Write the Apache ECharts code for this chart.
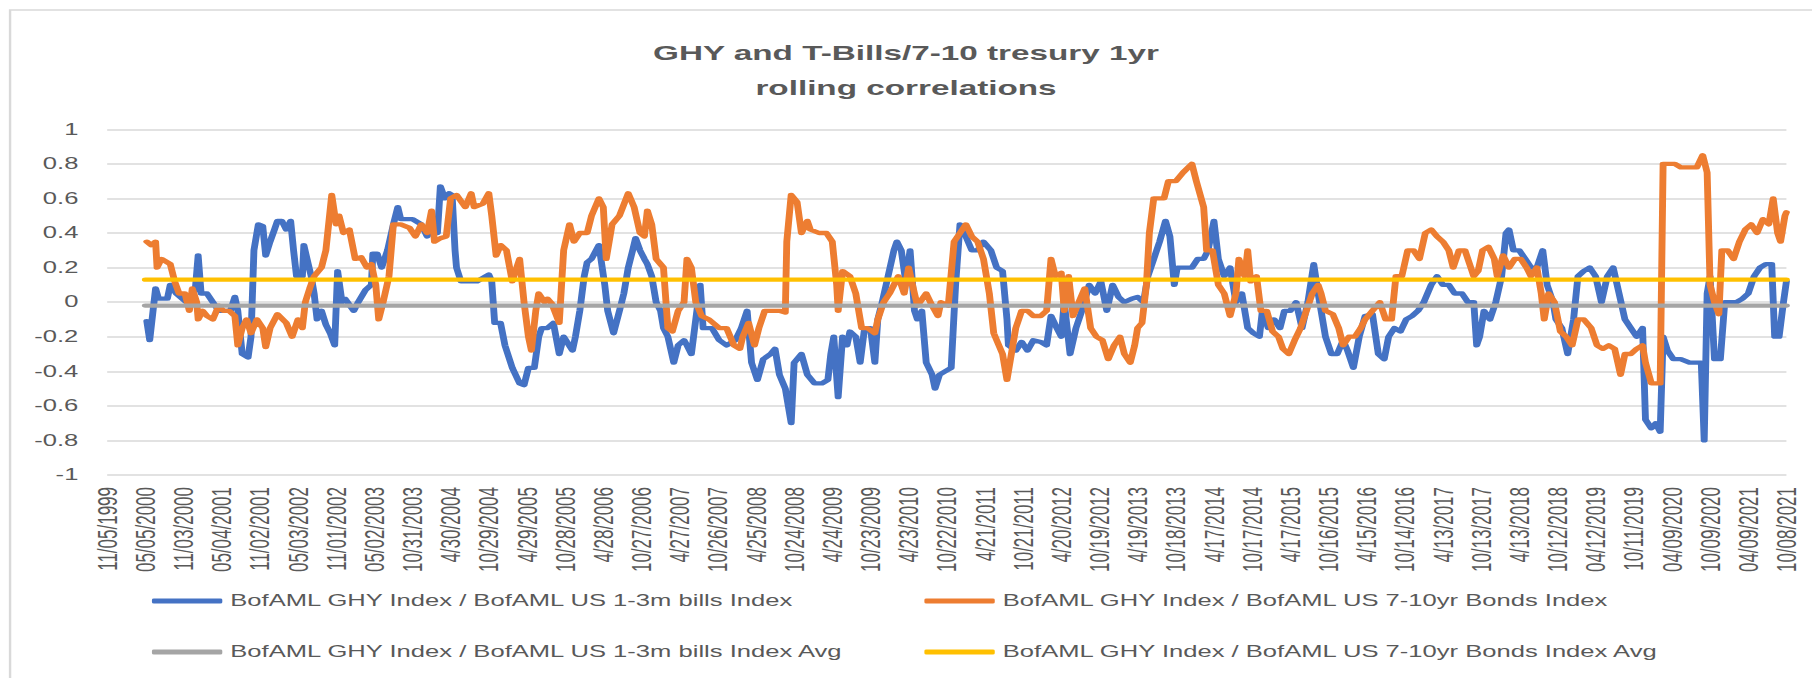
<!DOCTYPE html>
<html>
<head>
<meta charset="utf-8">
<script src="https://cdn.jsdelivr.net/npm/echarts/dist/echarts.min.js"></script>
<style>
html,body{margin:0;padding:0;background:#fff;overflow:hidden;}
#wrap{width:1812px;height:678px;overflow:hidden;position:relative;background:#fff;}
#chart{width:1133px;height:678px;transform:scaleX(1.59929);transform-origin:0 0;}
</style>
</head>
<body>
<div id="wrap"><div id="chart"></div></div>
<script>
// X tick labels: one every 26 weeks, week 0 = 11/05/1999
const tickLabels = ["11/05/1999","05/05/2000","11/03/2000","05/04/2001","11/02/2001","05/03/2002","11/01/2002","05/02/2003","10/31/2003","4/30/2004","10/29/2004","4/29/2005","10/28/2005","4/28/2006","10/27/2006","4/27/2007","10/26/2007","4/25/2008","10/24/2008","4/24/2009","10/23/2009","4/23/2010","10/22/2010","4/21/2011","10/21/2011","4/20/2012","10/19/2012","4/19/2013","10/18/2013","4/17/2014","10/17/2014","4/17/2015","10/16/2015","4/15/2016","10/14/2016","4/13/2017","10/13/2017","4/13/2018","10/12/2018","04/12/2019","10/11/2019","04/09/2020","10/09/2020","04/09/2021","10/08/2021"];
const weeksPerTick = 26;

const seriesNames = [
  "BofAML GHY Index / BofAML US 1-3m bills Index",
  "BofAML GHY Index / BofAML US 7-10yr Bonds Index",
  "BofAML GHY Index / BofAML US 1-3m bills Index Avg",
  "BofAML GHY Index / BofAML US 7-10yr Bonds Index Avg"
];

// [week index, correlation]
const billsCorr = [[27,-0.11],[29,-0.22],[33,0.08],[35,0.02],[41,0.02],[43,0.1],[47,0.05],[54,0.0],[60,0.07],[62,0.27],[64,0.05],[68,0.05],[76,-0.05],[84,-0.05],[87,0.03],[89,-0.05],[92,-0.3],[96,-0.32],[98,-0.2],[100,0.3],[103,0.45],[106,0.44],[108,0.27],[111,0.35],[114,0.42],[116,0.47],[119,0.47],[122,0.42],[125,0.47],[127,0.3],[129,0.15],[133,0.15],[134,0.33],[137,0.22],[139,0.15],[141,0.05],[143,-0.1],[146,-0.05],[149,-0.13],[152,-0.18],[155,-0.25],[157,0.18],[160,0.0],[162,0.02],[168,-0.05],[171,0.0],[176,0.07],[180,0.1],[181,0.28],[184,0.28],[187,0.2],[191,0.3],[195,0.45],[198,0.55],[200,0.48],[208,0.48],[214,0.45],[218,0.38],[221,0.42],[225,0.4],[227,0.67],[230,0.6],[233,0.63],[235,0.62],[237,0.3],[238,0.2],[241,0.12],[252,0.12],[260,0.16],[262,0.12],[264,-0.12],[268,-0.12],[271,-0.25],[276,-0.38],[281,-0.47],[284,-0.48],[287,-0.38],[291,-0.38],[294,-0.2],[296,-0.15],[300,-0.15],[304,-0.12],[308,-0.3],[311,-0.2],[317,-0.28],[319,-0.2],[322,-0.05],[325,0.15],[327,0.23],[330,0.25],[335,0.33],[339,0.1],[341,-0.05],[345,-0.18],[349,-0.05],[352,0.05],[355,0.2],[358,0.3],[360,0.37],[363,0.3],[366,0.25],[368,0.22],[371,0.15],[374,0.0],[377,-0.05],[379,-0.15],[382,-0.2],[386,-0.35],[389,-0.25],[393,-0.22],[395,-0.25],[398,-0.3],[401,-0.1],[404,0.1],[406,-0.15],[412,-0.15],[417,-0.22],[422,-0.25],[428,-0.22],[432,-0.15],[436,-0.05],[439,-0.35],[443,-0.45],[447,-0.33],[452,-0.3],[455,-0.27],[458,-0.42],[462,-0.5],[466,-0.7],[468,-0.35],[473,-0.3],[477,-0.42],[482,-0.47],[487,-0.47],[491,-0.45],[493,-0.3],[495,-0.2],[498,-0.55],[501,-0.2],[504,-0.25],[506,-0.17],[510,-0.2],[513,-0.35],[516,-0.15],[520,-0.15],[523,-0.35],[525,-0.1],[528,0.0],[532,0.15],[536,0.3],[538,0.35],[541,0.3],[544,0.12],[547,0.3],[550,-0.05],[552,-0.1],[555,-0.05],[558,-0.35],[562,-0.42],[564,-0.5],[567,-0.42],[571,-0.4],[575,-0.38],[578,0.1],[581,0.45],[585,0.38],[589,0.3],[593,0.3],[597,0.35],[602,0.3],[606,0.2],[610,0.18],[613,-0.1],[614,-0.25],[619,-0.28],[623,-0.23],[627,-0.28],[631,-0.22],[636,-0.23],[640,-0.25],[643,-0.08],[647,-0.15],[650,-0.2],[652,0.0],[656,-0.3],[660,-0.15],[664,-0.05],[669,0.1],[673,0.05],[677,0.12],[681,-0.05],[685,0.1],[689,0.03],[693,0.0],[698,0.02],[702,0.03],[706,0.0],[709,0.15],[713,0.25],[717,0.35],[721,0.47],[724,0.38],[727,0.1],[729,0.2],[735,0.2],[739,0.2],[743,0.25],[747,0.25],[750,0.3],[754,0.47],[757,0.25],[761,0.15],[765,0.2],[769,0.0],[773,0.05],[777,-0.15],[781,-0.18],[785,-0.2],[787,-0.05],[791,-0.15],[795,-0.1],[799,-0.15],[802,-0.05],[806,-0.05],[810,0.0],[814,-0.15],[818,0.0],[822,0.22],[825,0.05],[827,-0.05],[830,-0.2],[834,-0.3],[838,-0.3],[842,-0.22],[845,-0.28],[849,-0.38],[853,-0.2],[857,-0.08],[862,-0.07],[866,-0.3],[870,-0.33],[873,-0.2],[877,-0.15],[881,-0.17],[885,-0.1],[889,-0.08],[893,-0.05],[897,0.0],[902,0.1],[906,0.15],[910,0.1],[914,0.1],[918,0.05],[923,0.05],[927,0.0],[931,0.0],[933,-0.25],[935,-0.2],[938,-0.05],[942,-0.1],[946,0.0],[950,0.15],[953,0.4],[955,0.42],[958,0.3],[962,0.3],[966,0.25],[970,0.2],[974,0.2],[978,0.3],[981,0.1],[985,0.0],[987,-0.1],[991,-0.15],[995,-0.3],[999,-0.1],[1002,0.15],[1006,0.18],[1010,0.2],[1014,0.15],[1018,0.0],[1022,0.15],[1026,0.2],[1030,0.05],[1034,-0.1],[1038,-0.15],[1042,-0.2],[1046,-0.15],[1048,-0.68],[1052,-0.73],[1055,-0.7],[1058,-0.75],[1060,-0.2],[1063,-0.28],[1067,-0.33],[1072,-0.33],[1078,-0.35],[1083,-0.35],[1086,-0.35],[1088,-0.8],[1090,0.05],[1092,0.15],[1095,-0.33],[1099,-0.33],[1102,0.0],[1106,0.0],[1110,0.0],[1114,0.02],[1118,0.05],[1122,0.15],[1126,0.2],[1130,0.22],[1134,0.22],[1136,-0.2],[1139,-0.2],[1142,0.0],[1144,0.12]];

const bondsCorr = [[27,0.35],[30,0.33],[33,0.35],[34,0.2],[37,0.25],[41,0.23],[43,0.22],[46,0.12],[49,0.05],[53,0.05],[56,-0.05],[58,0.08],[61,0.0],[62,-0.1],[65,-0.05],[68,-0.08],[72,-0.1],[76,-0.02],[79,-0.05],[83,-0.05],[87,-0.08],[89,-0.25],[92,-0.15],[95,-0.1],[98,-0.18],[102,-0.1],[106,-0.15],[108,-0.26],[111,-0.15],[116,-0.07],[122,-0.12],[126,-0.2],[130,-0.1],[133,-0.15],[135,0.0],[138,0.08],[141,0.15],[143,0.17],[146,0.2],[149,0.3],[153,0.62],[156,0.45],[158,0.5],[161,0.4],[165,0.42],[169,0.25],[173,0.26],[177,0.2],[180,0.22],[183,0.1],[185,-0.1],[188,0.0],[192,0.15],[195,0.45],[200,0.45],[206,0.43],[210,0.38],[214,0.45],[218,0.4],[221,0.53],[223,0.35],[227,0.37],[231,0.38],[234,0.6],[238,0.62],[244,0.55],[248,0.63],[250,0.55],[256,0.57],[260,0.63],[262,0.5],[265,0.27],[268,0.33],[272,0.3],[276,0.12],[279,0.2],[281,0.25],[284,0.0],[287,-0.2],[289,-0.28],[292,-0.05],[294,0.05],[298,0.0],[300,0.02],[303,-0.01],[308,-0.12],[311,0.3],[315,0.45],[318,0.35],[322,0.4],[327,0.4],[330,0.5],[335,0.6],[338,0.55],[340,0.25],[344,0.45],[349,0.5],[355,0.63],[359,0.55],[363,0.4],[366,0.38],[368,0.53],[371,0.45],[374,0.25],[377,0.22],[379,0.2],[382,-0.15],[385,-0.17],[389,-0.05],[393,0.0],[395,0.25],[398,0.2],[401,0.0],[405,-0.08],[410,-0.1],[417,-0.15],[422,-0.15],[427,-0.25],[431,-0.27],[433,-0.2],[437,-0.12],[441,-0.25],[444,-0.15],[448,-0.05],[452,-0.05],[458,-0.05],[462,-0.06],[463,0.35],[466,0.62],[470,0.58],[473,0.4],[477,0.47],[479,0.42],[485,0.4],[490,0.4],[494,0.35],[497,0.1],[498,-0.05],[501,0.18],[506,0.15],[510,0.05],[514,-0.15],[518,-0.15],[523,-0.18],[525,-0.1],[529,0.0],[533,0.05],[539,0.15],[543,0.05],[546,0.2],[550,0.05],[552,-0.02],[558,0.05],[562,-0.02],[566,-0.08],[568,0.0],[573,-0.02],[577,0.35],[581,0.4],[585,0.45],[589,0.38],[593,0.35],[597,0.25],[601,0.05],[604,-0.18],[606,-0.22],[610,-0.3],[613,-0.45],[616,-0.3],[619,-0.15],[623,-0.05],[627,-0.05],[631,-0.08],[636,-0.08],[640,-0.05],[643,0.25],[646,0.15],[650,0.17],[652,-0.05],[655,0.15],[658,-0.08],[662,0.0],[666,0.08],[670,-0.15],[674,-0.2],[678,-0.22],[682,-0.33],[686,-0.25],[690,-0.2],[693,-0.3],[697,-0.35],[700,-0.25],[702,-0.15],[705,-0.12],[708,0.1],[710,0.4],[713,0.6],[720,0.6],[723,0.7],[728,0.7],[733,0.75],[739,0.8],[742,0.7],[747,0.55],[749,0.3],[753,0.3],[757,0.1],[761,0.05],[765,-0.08],[769,0.05],[771,0.25],[775,0.15],[777,0.3],[779,0.12],[783,0.15],[786,-0.05],[790,-0.05],[794,-0.17],[798,-0.2],[801,-0.27],[805,-0.3],[809,-0.22],[813,-0.15],[817,-0.05],[821,0.05],[825,0.1],[827,0.05],[830,-0.05],[835,-0.07],[839,-0.15],[842,-0.25],[846,-0.2],[850,-0.2],[854,-0.15],[857,-0.1],[862,-0.05],[867,0.0],[871,-0.1],[875,-0.1],[878,0.15],[882,0.15],[886,0.3],[890,0.3],[894,0.25],[898,0.4],[902,0.42],[906,0.38],[910,0.35],[914,0.3],[917,0.2],[921,0.3],[925,0.3],[929,0.2],[931,0.15],[934,0.18],[937,0.3],[941,0.32],[945,0.25],[947,0.15],[951,0.27],[955,0.2],[959,0.25],[963,0.25],[967,0.2],[970,0.15],[974,0.2],[977,0.05],[979,-0.1],[982,0.05],[986,0.0],[990,-0.17],[994,-0.2],[998,-0.25],[1002,-0.1],[1006,-0.1],[1011,-0.15],[1015,-0.25],[1019,-0.27],[1023,-0.25],[1027,-0.27],[1031,-0.42],[1034,-0.3],[1038,-0.3],[1042,-0.27],[1046,-0.25],[1048,-0.35],[1052,-0.47],[1058,-0.47],[1060,0.8],[1064,0.8],[1068,0.8],[1072,0.78],[1078,0.78],[1083,0.78],[1087,0.85],[1090,0.75],[1092,0.1],[1095,0.0],[1098,-0.07],[1100,0.3],[1104,0.3],[1108,0.25],[1112,0.35],[1116,0.42],[1120,0.45],[1124,0.4],[1128,0.48],[1132,0.45],[1135,0.6],[1138,0.4],[1140,0.35],[1143,0.5],[1144,0.52]];

const billsAvg = -0.02;
const bondsAvg = 0.13;
const avgStartWeek = 26;
const avgEndWeek = 1144;

const colors = ["#4472C4", "#ED7D31", "#A5A5A5", "#FFC000"];
const txt = "#595959";
const font = '"Liberation Sans", Arial, sans-serif';

const chart = echarts.init(document.getElementById('chart'), null, {renderer: 'svg'});

function lineSeries(name, data, color, z) {
  return {
    name, type: 'line', data, showSymbol: false, symbol: 'none', z,
    animation: false, color,
    lineStyle: {color, width: 4.3, cap: 'round', join: 'round'}
  };
}

function legendAt(name, left, top) {
  return {
    data: [name], left, top, orient: 'horizontal',
    icon: 'roundRect', itemWidth: 44, itemHeight: 5, itemGap: 0, itemTextGap: 5,
    selectedMode: false,
    textStyle: {color: txt, fontSize: 16, fontFamily: font}
  };
}

const option = {
  backgroundColor: '#fff',
  animation: false,
  title: {
    text: 'GHY and T-Bills/7-10 tresury 1yr\nrolling correlations',
    left: 'center', top: 30,
    textStyle: {color: txt, fontSize: 20.8, fontWeight: 'bold', lineHeight: 35, fontFamily: font}
  },
  graphic: [{
    type: 'rect', z: -10, silent: true,
    shape: {x: 6.3, y: 10, width: 1300, height: 800},
    style: {fill: 'none', stroke: '#d9d9d9', lineWidth: 1.5}
  }],
  legend: [
    legendAt(seriesNames[0], 90, 588),
    legendAt(seriesNames[1], 573, 588),
    legendAt(seriesNames[2], 90, 639),
    legendAt(seriesNames[3], 573, 639)
  ],
  grid: {left: 67, right: 16, top: 129.3, bottom: 203, containLabel: false},
  xAxis: {
    type: 'value', min: 0, max: avgEndWeek, interval: weeksPerTick,
    axisLine: {show: false}, axisTick: {show: false}, splitLine: {show: false},
    axisLabel: {
      rotate: 90, margin: 12, fontSize: 17, color: txt, fontFamily: font,
      showMinLabel: true, showMaxLabel: true,
      formatter: v => tickLabels[Math.round(v / weeksPerTick)] || ''
    }
  },
  yAxis: {
    type: 'value', min: -1, max: 1, interval: 0.2,
    axisLine: {show: false}, axisTick: {show: false},
    splitLine: {lineStyle: {color: '#d9d9d9', width: 1.5}},
    axisLabel: {
      margin: 18, fontSize: 16, color: txt, fontFamily: font,
      formatter: v => String(Math.round(v * 10) / 10)
    }
  },
  series: [
    lineSeries(seriesNames[0], billsCorr, colors[0], 2),
    lineSeries(seriesNames[1], bondsCorr, colors[1], 3),
    lineSeries(seriesNames[2], [[avgStartWeek, billsAvg], [avgEndWeek, billsAvg]], colors[2], 4),
    lineSeries(seriesNames[3], [[avgStartWeek, bondsAvg], [avgEndWeek, bondsAvg]], colors[3], 5)
  ]
};
chart.setOption(option);
</script>
</body>
</html>
